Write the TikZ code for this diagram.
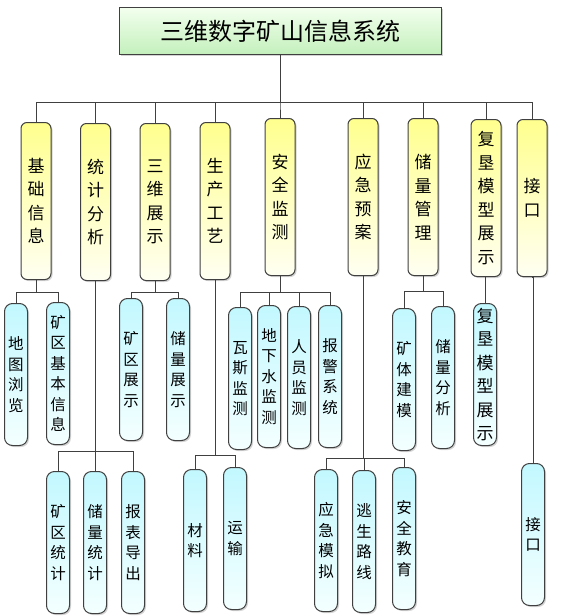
\documentclass[tikz,border=0pt]{standalone}
\usepackage{fontspec}
\newfontfamily\cjk{Noto Sans CJK SC}
\usepackage{xcolor}
\usetikzlibrary{shadows, positioning}
\definecolor{edgegray}{HTML}{404040}
\definecolor{titletop}{HTML}{F2FFEE}
\definecolor{titlebot}{HTML}{C4F0BC}
\definecolor{yeltop}{HTML}{FFFF8E}
\definecolor{yelbot}{HTML}{FFFFF2}
\definecolor{cyantop}{HTML}{C2F8FF}
\definecolor{cyanbot}{HTML}{F4FFFF}
\tikzstyle{boxshadow} = [drop shadow={opacity=0.35, shadow xshift=1.5pt, shadow yshift=-1.5pt}]
\tikzstyle{link} = [draw=edgegray, line width=1pt]

\begin{document}
\begin{tikzpicture}[
		x=1pt, y=-1pt,
		every node/.style={inner sep=0pt, align=center, anchor=north},
		sysbox/.style={rectangle, draw=edgegray, line width=1pt, boxshadow, top color=titletop, bottom color=titlebot, minimum width=322pt, minimum height=47pt, font=\cjk\fontsize{24}{27}\selectfont},
		modbox/.style={rectangle, rounded corners=6pt, draw=edgegray, line width=1pt, boxshadow, top color=yeltop, bottom color=yelbot, minimum width=30pt, minimum height=157pt, font=\cjk\fontsize{17}{23.5}\selectfont},
		subbox/.style={rectangle, rounded corners=8pt, draw=edgegray, line width=1pt, boxshadow, top color=cyantop, bottom color=cyanbot, minimum width=23pt, minimum height=142pt, font=\cjk\fontsize{15.5}{20.5}\selectfont}
		]
		\useasboundingbox (0,0) rectangle (566,616);
		
		% 节点
		\node[sysbox] (sys) at (280,7) {三维数字矿山信息系统};
		
		\node[modbox] (jc) at (36,122) {基\\础\\信\\息};
		\node[modbox] (tj) at (95.5,123) {统\\计\\分\\析};
		\node[modbox] (sw) at (155,123) {三\\维\\展\\示};
		\node[modbox] (sc) at (215,122) {生\\产\\工\\艺};
		\node[modbox] (aq) at (280,118) {安\\全\\监\\测};
		\node[modbox] (yj) at (363,118) {应\\急\\预\\案};
		\node[modbox] (cl) at (423,118) {储\\量\\管\\理};
		\node[modbox] (fk) at (486,119) {复\\垦\\模\\型\\展\\示};
		\node[modbox] (jk) at (532,119) {接\\口};
		
		\node[subbox] (dt) at (16,303) {地\\图\\浏\\览};
		\node[subbox] (kqxx) at (58,302) {矿\\区\\基\\本\\信\\息};
		\node[subbox] (kqzs) at (131,298) {矿\\区\\展\\示};
		\node[subbox] (clzs) at (178,298) {储\\量\\展\\示};
		\node[subbox] (ws) at (240,307) {瓦\\斯\\监\\测};
		\node[subbox] (dxs) at (269,305) {地\\下\\水\\监\\测};
		\node[subbox] (ry) at (299,306) {人\\员\\监\\测};
		\node[subbox] (bj) at (330,305) {报\\警\\系\\统};
		\node[subbox] (kt) at (404,308) {矿\\体\\建\\模};
		\node[subbox] (clfx) at (443,306) {储\\量\\分\\析};
		\node[subbox, font=\cjk\fontsize{17}{23.5}\selectfont] (fkzs) at (485,303) {复\\垦\\模\\型\\展\\示};
		
		\node[subbox] (kqtj) at (58,471) {矿\\区\\统\\计};
		\node[subbox] (cltj) at (95,471) {储\\量\\统\\计};
		\node[subbox] (bb) at (133,471) {报\\表\\导\\出};
		\node[subbox] (cliao) at (195,469) {材\\料};
		\node[subbox] (ys) at (235,467) {运\\输};
		\node[subbox] (mn) at (326,469) {应\\急\\模\\拟};
		\node[subbox] (ts) at (364,470) {逃\\生\\路\\线};
		\node[subbox] (jy) at (404,467) {安\\全\\教\\育};
		\node[subbox] (jkz) at (533,463) {接\\口};
		
		% 连线
		\foreach \m in {jc, tj, sw, sc, aq, yj, cl, fk, jk}
		\draw[link] (sys.south) -- ++(0,47) -| (\m.north);
		
		\foreach \s in {dt, kqxx}
		\draw[link] (jc.south) -- ++(0,12) -| (\s.north);
		\foreach \s in {kqzs, clzs}
		\draw[link] (sw.south) -- ++(0,11) -| (\s.north);
		\foreach \s in {ws, dxs, ry, bj}
		\draw[link] (aq.south) -- ++(0,16) -| (\s.north);
		\foreach \s in {kt, clfx}
		\draw[link] (cl.south) -- ++(0,15) -| (\s.north);
		\draw[link] (fk.south) -| (fkzs.north);
		
		\foreach \s in {kqtj, cltj, bb}
		\draw[link] (tj.south) -- ++(0,170) -| (\s.north);
		\foreach \s in {cliao, ys}
		\draw[link] (sc.south) -- ++(0,175) -| (\s.north);
		\foreach \s in {mn, ts, jy}
		\draw[link] (yj.south) -- ++(0,182) -| (\s.north);
		\draw[link] (jk.south) -| (jkz.north);
		
	\end{tikzpicture}
\end{document}
